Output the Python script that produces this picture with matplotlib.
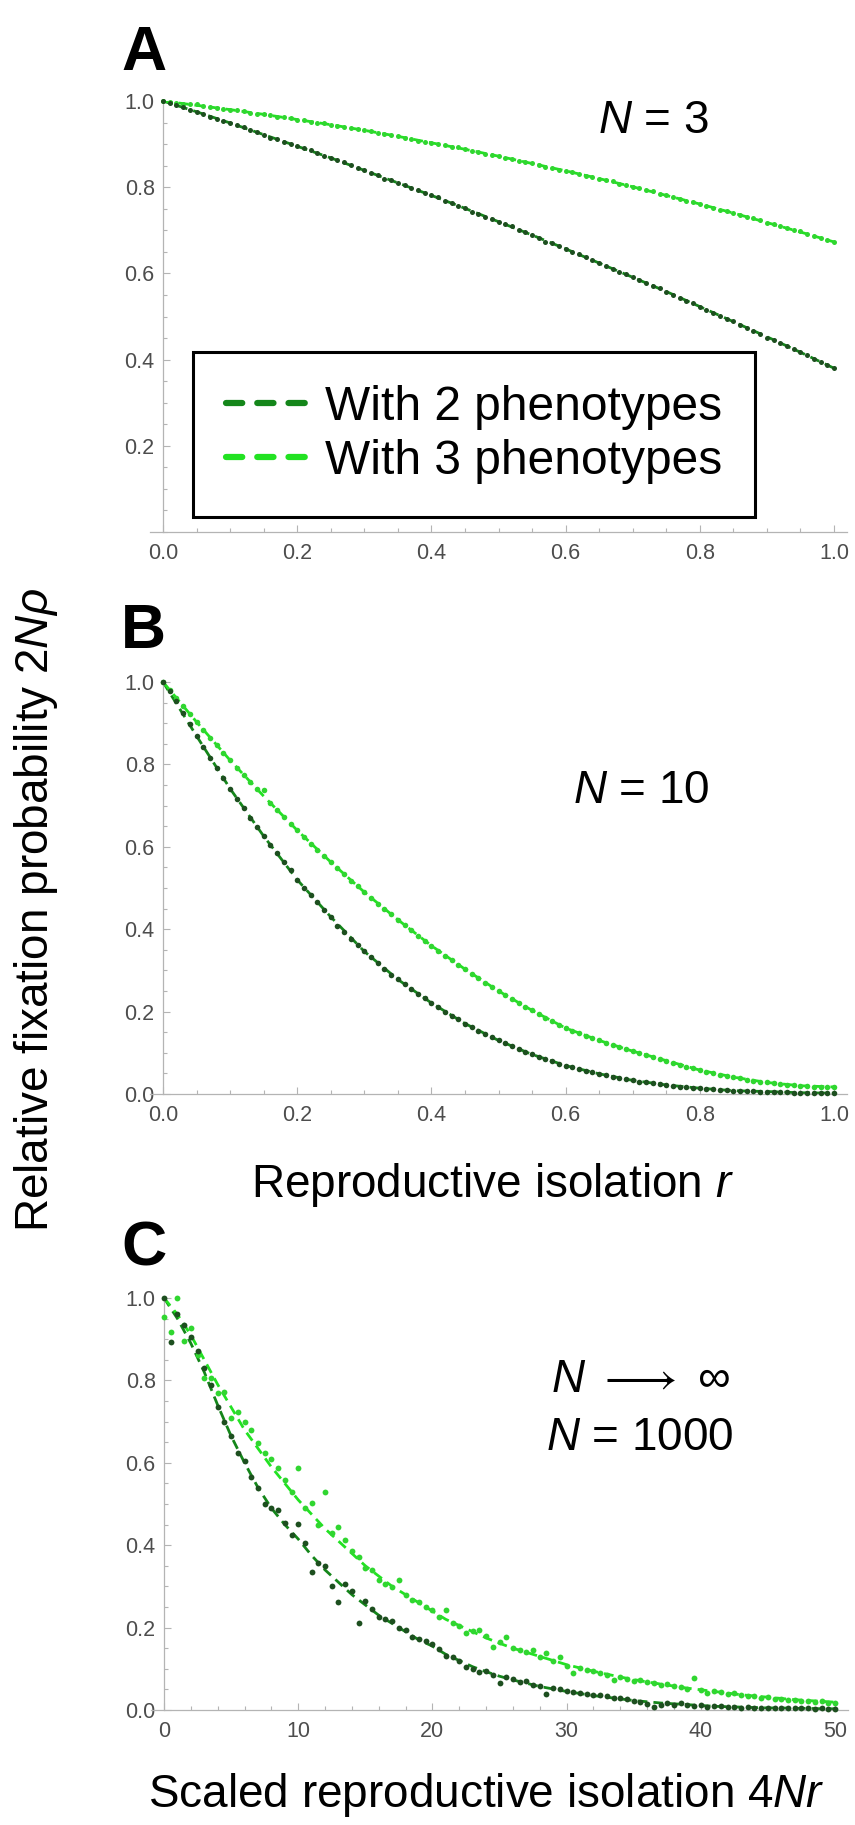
import numpy as np
import matplotlib
matplotlib.use("Agg")
import matplotlib.pyplot as plt
from matplotlib.lines import Line2D
from matplotlib.ticker import MultipleLocator, FixedLocator, FuncFormatter

plt.rcParams['font.family'] = ['Liberation Sans', 'DejaVu Sans']
plt.rcParams['mathtext.fontset'] = 'custom'
plt.rcParams['mathtext.rm'] = 'Liberation Sans'
plt.rcParams['mathtext.it'] = 'Liberation Sans:italic'
plt.rcParams['mathtext.bf'] = 'Liberation Sans:bold'

# ---------------- data ----------------
# simulation grid for panels A and B (reproductive isolation r)
r_sim = np.round(np.arange(101) * 0.01, 2)
# analytic curve grid for panels A and B
r_theory = np.round(np.arange(21) * 0.05, 2)

# Panel A, N = 3
a_two_theory = [1.000, 0.975, 0.949, 0.922, 0.895, 0.868, 0.839, 0.810, 0.781, 0.751,
                0.720, 0.689, 0.657, 0.624, 0.591, 0.558, 0.523, 0.488, 0.453, 0.417, 0.380]
a_three_theory = [1.000, 0.990, 0.980, 0.969, 0.957, 0.945, 0.932, 0.918, 0.903, 0.888,
                  0.872, 0.855, 0.838, 0.820, 0.801, 0.781, 0.761, 0.740, 0.718, 0.696, 0.673]
a_two_sim = [1.000, 0.995, 0.990, 0.987, 0.980, 0.975, 0.970, 0.962, 0.959, 0.954,
             0.949, 0.944, 0.940, 0.933, 0.928, 0.922, 0.915, 0.912, 0.906, 0.901,
             0.895, 0.890, 0.887, 0.879, 0.873, 0.868, 0.862, 0.858, 0.851, 0.845,
             0.839, 0.833, 0.828, 0.820, 0.816, 0.810, 0.804, 0.799, 0.793, 0.787,
             0.781, 0.777, 0.769, 0.763, 0.757, 0.751, 0.743, 0.738, 0.732, 0.726,
             0.720, 0.714, 0.711, 0.701, 0.695, 0.689, 0.682, 0.674, 0.670, 0.663,
             0.657, 0.650, 0.644, 0.639, 0.631, 0.624, 0.618, 0.611, 0.603, 0.598,
             0.591, 0.585, 0.578, 0.571, 0.566, 0.558, 0.551, 0.544, 0.537, 0.532,
             0.523, 0.516, 0.509, 0.502, 0.495, 0.490, 0.481, 0.474, 0.467, 0.460,
             0.451, 0.446, 0.438, 0.431, 0.424, 0.417, 0.411, 0.402, 0.395, 0.387,
             0.380]
a_three_sim = [1.000, 0.998, 0.996, 0.994, 0.992, 0.992, 0.988, 0.986, 0.984, 0.982,
               0.980, 0.978, 0.976, 0.973, 0.969, 0.969, 0.967, 0.964, 0.962, 0.960,
               0.957, 0.955, 0.952, 0.950, 0.949, 0.945, 0.942, 0.940, 0.937, 0.934,
               0.932, 0.931, 0.926, 0.923, 0.920, 0.918, 0.915, 0.912, 0.907, 0.906,
               0.903, 0.900, 0.897, 0.894, 0.893, 0.888, 0.885, 0.881, 0.878, 0.875,
               0.872, 0.868, 0.865, 0.860, 0.858, 0.855, 0.852, 0.848, 0.845, 0.841,
               0.838, 0.836, 0.830, 0.827, 0.823, 0.820, 0.816, 0.814, 0.808, 0.804,
               0.801, 0.797, 0.793, 0.791, 0.785, 0.781, 0.777, 0.773, 0.769, 0.765,
               0.761, 0.757, 0.751, 0.748, 0.744, 0.740, 0.736, 0.731, 0.729, 0.723,
               0.718, 0.714, 0.710, 0.705, 0.701, 0.698, 0.692, 0.687, 0.682, 0.678,
               0.673]

# Panel B, N = 10
b_two_theory = [1.000, 0.869, 0.741, 0.626, 0.520, 0.430, 0.346, 0.278, 0.221, 0.171,
                0.130, 0.096, 0.069, 0.049, 0.033, 0.022, 0.014, 0.008, 0.006, 0.003, 0.002]
b_three_theory = [1.000, 0.903, 0.810, 0.723, 0.640, 0.563, 0.490, 0.423, 0.360, 0.303,
                  0.250, 0.203, 0.160, 0.130, 0.104, 0.081, 0.058, 0.041, 0.028, 0.020, 0.017]
b_two_sim = [1.000, 0.978, 0.953, 0.925, 0.897, 0.869, 0.843, 0.816, 0.791, 0.766,
             0.741, 0.717, 0.693, 0.671, 0.648, 0.626, 0.605, 0.584, 0.563, 0.543,
             0.520, 0.501, 0.483, 0.465, 0.447, 0.430, 0.408, 0.392, 0.376, 0.361,
             0.346, 0.332, 0.317, 0.304, 0.290, 0.278, 0.267, 0.255, 0.243, 0.232,
             0.221, 0.210, 0.200, 0.190, 0.181, 0.171, 0.162, 0.154, 0.146, 0.138,
             0.130, 0.123, 0.116, 0.109, 0.102, 0.096, 0.090, 0.085, 0.079, 0.074,
             0.069, 0.065, 0.061, 0.057, 0.053, 0.049, 0.045, 0.042, 0.039, 0.036,
             0.033, 0.030, 0.028, 0.026, 0.024, 0.022, 0.020, 0.018, 0.017, 0.015,
             0.014, 0.012, 0.011, 0.010, 0.009, 0.008, 0.008, 0.007, 0.007, 0.006,
             0.006, 0.004, 0.004, 0.004, 0.003, 0.003, 0.003, 0.003, 0.003, 0.003,
             0.002]
b_three_sim = [1.000, 0.980, 0.960, 0.941, 0.922, 0.903, 0.884, 0.865, 0.846, 0.828,
               0.810, 0.792, 0.774, 0.757, 0.741, 0.738, 0.706, 0.689, 0.672, 0.656,
               0.640, 0.624, 0.608, 0.593, 0.578, 0.563, 0.548, 0.533, 0.518, 0.504,
               0.490, 0.476, 0.462, 0.449, 0.436, 0.423, 0.410, 0.397, 0.384, 0.372,
               0.360, 0.348, 0.336, 0.325, 0.314, 0.303, 0.292, 0.281, 0.270, 0.260,
               0.250, 0.240, 0.230, 0.221, 0.212, 0.203, 0.194, 0.185, 0.176, 0.168,
               0.160, 0.153, 0.147, 0.141, 0.136, 0.130, 0.125, 0.119, 0.114, 0.109,
               0.104, 0.099, 0.094, 0.090, 0.085, 0.081, 0.076, 0.071, 0.066, 0.062,
               0.058, 0.054, 0.050, 0.047, 0.044, 0.041, 0.038, 0.035, 0.032, 0.030,
               0.028, 0.026, 0.024, 0.023, 0.021, 0.020, 0.019, 0.018, 0.017, 0.017,
               0.017]

# Panel C, N = 1000, against scaled isolation 4Nr
s_sim = np.round(np.arange(101) * 0.5, 1)
s_theory = np.arange(51)
c_two_theory = [1.000, 0.950, 0.890, 0.820, 0.740, 0.665, 0.600, 0.540, 0.490, 0.450,
                0.415, 0.375, 0.340, 0.310, 0.280, 0.255, 0.230, 0.210, 0.190, 0.170,
                0.155, 0.135, 0.120, 0.105, 0.093, 0.082, 0.073, 0.065, 0.057, 0.051,
                0.045, 0.040, 0.035, 0.031, 0.027, 0.023, 0.020, 0.017, 0.015, 0.013,
                0.011, 0.009, 0.008, 0.007, 0.006, 0.005, 0.005, 0.004, 0.004, 0.003, 0.003]
c_three_theory = [1.000, 0.960, 0.910, 0.850, 0.790, 0.735, 0.680, 0.635, 0.590, 0.550,
                  0.510, 0.475, 0.440, 0.410, 0.380, 0.350, 0.325, 0.300, 0.280, 0.260,
                  0.240, 0.220, 0.205, 0.190, 0.175, 0.162, 0.150, 0.140, 0.130, 0.120,
                  0.110, 0.102, 0.094, 0.087, 0.080, 0.074, 0.068, 0.063, 0.058, 0.053,
                  0.049, 0.045, 0.041, 0.037, 0.034, 0.031, 0.028, 0.025, 0.023, 0.021, 0.019]
c_two_sim = [1.000, 0.893, 0.960, 0.935, 0.905, 0.872, 0.830, 0.790, 0.735, 0.700,
             0.665, 0.624, 0.605, 0.565, 0.540, 0.500, 0.490, 0.485, 0.455, 0.425,
             0.452, 0.405, 0.335, 0.357, 0.350, 0.300, 0.262, 0.305, 0.290, 0.212,
             0.265, 0.245, 0.226, 0.222, 0.215, 0.200, 0.195, 0.178, 0.172, 0.168,
             0.160, 0.148, 0.130, 0.128, 0.118, 0.105, 0.100, 0.092, 0.095, 0.085,
             0.066, 0.080, 0.075, 0.068, 0.070, 0.060, 0.058, 0.040, 0.054, 0.050,
             0.046, 0.044, 0.042, 0.040, 0.036, 0.036, 0.033, 0.030, 0.028, 0.026,
             0.022, 0.020, 0.015, 0.007, 0.012, 0.016, 0.013, 0.017, 0.011, 0.010,
             0.012, 0.008, 0.010, 0.009, 0.007, 0.008, 0.006, 0.008, 0.006, 0.005,
             0.006, 0.005, 0.004, 0.005, 0.006, 0.004, 0.005, 0.003, 0.004, 0.003,
             0.003]
c_three_sim = [0.954, 0.917, 1.000, 0.896, 0.927, 0.862, 0.806, 0.806, 0.769, 0.771,
               0.709, 0.723, 0.700, 0.680, 0.648, 0.624, 0.610, 0.587, 0.558, 0.530,
               0.587, 0.490, 0.502, 0.449, 0.530, 0.430, 0.444, 0.413, 0.385, 0.371,
               0.345, 0.340, 0.316, 0.305, 0.299, 0.316, 0.280, 0.267, 0.262, 0.250,
               0.243, 0.225, 0.243, 0.210, 0.205, 0.187, 0.192, 0.194, 0.180, 0.153,
               0.165, 0.177, 0.150, 0.146, 0.140, 0.145, 0.128, 0.138, 0.120, 0.129,
               0.106, 0.090, 0.102, 0.098, 0.095, 0.090, 0.086, 0.073, 0.080, 0.076,
               0.070, 0.073, 0.068, 0.066, 0.060, 0.062, 0.058, 0.056, 0.050, 0.078,
               0.049, 0.041, 0.045, 0.044, 0.040, 0.041, 0.036, 0.035, 0.033, 0.029,
               0.031, 0.027, 0.026, 0.024, 0.025, 0.022, 0.023, 0.020, 0.021, 0.018,
               0.017]

series_labels = ["With 2 phenotypes", "With 3 phenotypes"]

# ---------------- styling ----------------
DARK_LINE = "#14861a"
DARK_DOT = "#1d4f1f"
LIGHT_LINE = "#22e222"
LIGHT_DOT = "#30d630"
AXIS_GREY = "#b4b4b4"
LABEL_GREY = "#4d4d4d"

W, H = 855, 1825
fig = plt.figure(figsize=(W / 100, H / 100), dpi=100)


def frac_box(left_px, top_px, right_px, bottom_px):
    return [left_px / W, 1 - bottom_px / H, (right_px - left_px) / W, (bottom_px - top_px) / H]


def style_axes(ax, xlim, xmajor, xminor, xfmt, show_y0):
    ax.set_xlim(*xlim)
    ax.set_ylim(0, 1.0)
    for side in ("top", "right"):
        ax.spines[side].set_visible(False)
    ax.spines["left"].set_position(("data", 0))
    for side in ("left", "bottom"):
        ax.spines[side].set_color(AXIS_GREY)
        ax.spines[side].set_linewidth(0.9)
    ax.xaxis.set_major_locator(MultipleLocator(xmajor))
    ax.xaxis.set_minor_locator(MultipleLocator(xminor))
    yt = [0.0, 0.2, 0.4, 0.6, 0.8, 1.0] if show_y0 else [0.2, 0.4, 0.6, 0.8, 1.0]
    ax.yaxis.set_major_locator(FixedLocator(yt))
    ax.yaxis.set_minor_locator(MultipleLocator(0.05))
    ax.xaxis.set_major_formatter(FuncFormatter(xfmt))
    ax.yaxis.set_major_formatter(FuncFormatter(lambda v, p: f"{v:.1f}"))
    ax.tick_params(which="both", direction="in", color=AXIS_GREY, width=0.8,
                   labelcolor=LABEL_GREY, labelsize=15.5)
    ax.tick_params(which="major", length=5)
    ax.tick_params(which="minor", length=3)
    ax.tick_params(axis="x", pad=8)
    ax.tick_params(axis="y", pad=6)
    ax.patch.set_alpha(0)


def draw_panel(ax, xt, two_t, three_t, xs, two_s, three_s, ms):
    ax.plot(xt, two_t, color=DARK_LINE, lw=2.0, dashes=(3.5, 2.2), zorder=2)
    ax.plot(xt, three_t, color=LIGHT_LINE, lw=2.0, dashes=(3.5, 2.2), zorder=2)
    ax.plot(xs, three_s, "o", ms=ms, color=LIGHT_DOT, mec="none", clip_on=False, zorder=3)
    ax.plot(xs, two_s, "o", ms=ms, color=DARK_DOT, mec="none", clip_on=False, zorder=4)


fmt_dec = lambda v, p: f"{v:.1f}"
fmt_int = lambda v, p: f"{v:.0f}"

# Panel A
axA = fig.add_axes(frac_box(149.6, 101, 847.4, 532))
style_axes(axA, (-0.02, 1.02), 0.2, 0.05, fmt_dec, show_y0=False)
draw_panel(axA, r_theory, a_two_theory, a_three_theory, r_sim, a_two_sim, a_three_sim, 3.6)

handles = [
    Line2D([], [], color=DARK_LINE, lw=4.5, ls=(0, (2.6, 2.4)), dash_capstyle="round"),
    Line2D([], [], color=LIGHT_LINE, lw=4.5, ls=(0, (2.6, 2.4)), dash_capstyle="round"),
]
leg = axA.legend(handles, series_labels, loc="upper left",
                 bbox_to_anchor=(193 / W, 1 - 352 / H), bbox_transform=fig.transFigure,
                 borderaxespad=0, fontsize=34.5, handlelength=1.65, handletextpad=0.42,
                 labelspacing=0.2, borderpad=0.68, fancybox=False, framealpha=1)
leg.get_frame().set_edgecolor("black")
leg.get_frame().set_linewidth(2.2)

# Panel B
axB = fig.add_axes(frac_box(149.6, 682, 847.4, 1094))
style_axes(axB, (-0.02, 1.02), 0.2, 0.05, fmt_dec, show_y0=True)
draw_panel(axB, r_theory, b_two_theory, b_three_theory, r_sim, b_two_sim, b_three_sim, 4.0)

# Panel C
axC = fig.add_axes(frac_box(150.6, 1298, 848.4, 1710))
style_axes(axC, (-1, 51), 10, 2, fmt_int, show_y0=True)
draw_panel(axC, s_theory, c_two_theory, c_three_theory, s_sim, c_two_sim, c_three_sim, 4.2)

# Panel letters
for letter, base_px in (("A", 70), ("B", 648), ("C", 1265)):
    fig.text(121 / W, 1 - base_px / H, letter, fontsize=45, fontweight="bold",
             ha="left", va="baseline")

# Population size annotations
fig.text(653 / W, 1 - 133 / H, r"$N$ = 3", fontsize=33, ha="center", va="baseline")
fig.text(641 / W, 1 - 803 / H, r"$N$ = 10", fontsize=33, ha="center", va="baseline")
fig.text(640 / W, 1 - 1392 / H, r"$N$ $\longrightarrow$ $\infty$", fontsize=33,
         ha="center", va="baseline")
fig.text(640 / W, 1 - 1450 / H, r"$N$ = 1000", fontsize=33, ha="center", va="baseline")

# Axis titles
fig.text(36 / W, 1 - 910 / H, r"Relative fixation probability 2$N\rho$", fontsize=33,
         rotation=90, ha="center", va="center")
fig.text(492 / W, 1 - 1197 / H, r"Reproductive isolation $r$", fontsize=33,
         ha="center", va="baseline")
fig.text(486 / W, 1 - 1807 / H, r"Scaled reproductive isolation 4$Nr$", fontsize=33,
         ha="center", va="baseline")

fig.savefig("out.png", dpi=100, facecolor="white")
